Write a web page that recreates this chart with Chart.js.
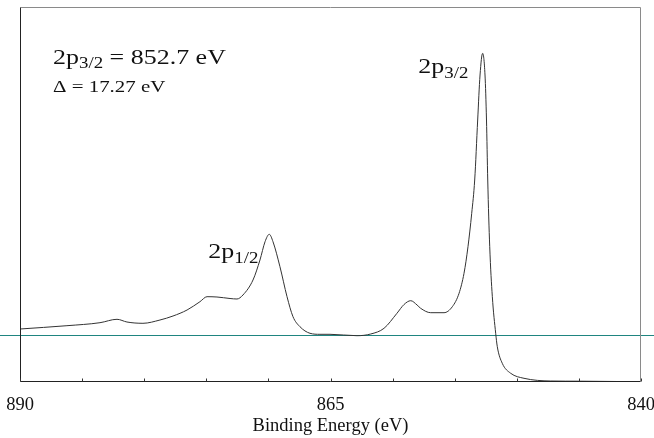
<!DOCTYPE html>
<html><head><meta charset="utf-8">
<script src="https://cdn.jsdelivr.net/npm/chart.js@4/dist/chart.umd.min.js"></script>
<style>html,body{margin:0;padding:0;background:#fff}#wrap{width:654px;height:438px}</style>
</head><body><div id="wrap"><canvas id="c" width="654" height="438"></canvas></div>
<script>
// Binding energy (eV) and intensity (arbitrary units)
const bindingEnergy = [890.00,886.22,883.56,882.19,881.39,880.10,878.73,877.68,876.55,875.51,
  874.94,874.14,873.09,872.53,872.05,871.24,870.68,870.27,869.93,869.63,
  869.07,868.50,868.02,867.46,866.65,865.85,865.04,862.87,861.76,860.69,
  859.65,859.08,858.54,858.03,857.74,856.93,855.86,855.19,854.65,854.25,853.93,853.63,
  853.39,853.15,852.96,852.75,852.56,852.44,852.34,852.18,851.97,851.70,
  851.57,851.17,850.49,849.42,847.27,844.91,840.16];
const intensity = [53,56.3,59.3,62.7,60,58.7,62,66,72,80.3,
  85.3,85,83.5,83,87,102,122,140.3,147.7,140.3,
  115.3,85.3,65.3,55.3,48.7,47.7,47.7,46.3,48,53.7,
  68.7,77.5,81.3,77,73.7,69.3,69.3,75.3,88.7,108.7,135.3,168.7,
  202,262,307,328.7,307,262,202,135.3,85.3,48.7,
  35.3,18.7,8.7,3.7,1,0.8,0.3];
const tickLabels = ['890','865','840'];
const baselineLevel = [47];
const peakLabels = [
  {main:'2p', sub:'3/2', rest:'', energy:857.93, level:308.7},
  {main:'2p', sub:'1/2', rest:'', energy:874.84, level:123.7}
];

const SERIF = '"Liberation Serif", "Times New Roman", serif';

function drawRich(ctx, x, y, parts, mainSize, subSize, sx) {
  ctx.save();
  ctx.translate(x, y);
  ctx.scale(sx, 1);
  ctx.textBaseline = 'alphabetic';
  ctx.textAlign = 'left';
  ctx.fillStyle = '#111';
  let cx = 0;
  ctx.font = mainSize + 'px ' + SERIF;
  ctx.fillText(parts.main, cx, 0); cx += ctx.measureText(parts.main).width;
  ctx.font = subSize + 'px ' + SERIF;
  ctx.fillText(parts.sub, cx, mainSize * 0.2); cx += ctx.measureText(parts.sub).width;
  if (parts.rest) {
    ctx.font = mainSize + 'px ' + SERIF;
    ctx.fillText(parts.rest, cx, 0);
  }
  ctx.restore();
}

const decor = {
  id: 'decor',
  beforeDatasetsDraw(chart) {
    const {ctx, scales: {y}} = chart;
    ctx.save();
    const by = Math.round(y.getPixelForValue(baselineLevel[0])) + 0.5;
    ctx.strokeStyle = '#1f8580';
    ctx.lineWidth = 1;
    ctx.beginPath(); ctx.moveTo(0, by); ctx.lineTo(chart.width, by); ctx.stroke();
    ctx.restore();
  },
  afterDatasetsDraw(chart) {
    const {ctx, chartArea: a, scales: {x, y}} = chart;
    ctx.save();
    ctx.lineWidth = 1;
    const L = Math.round(a.left) + 0.5, R = Math.round(a.right) - 0.5;
    const T = Math.round(a.top) + 0.5, B = Math.round(a.bottom) - 0.5;
    ctx.strokeStyle = '#8a8a8a';
    ctx.beginPath(); ctx.moveTo(L, T); ctx.lineTo(R, T); ctx.lineTo(R, B); ctx.stroke();
    ctx.strokeStyle = '#222';
    ctx.beginPath(); ctx.moveTo(L, T); ctx.lineTo(L, B); ctx.lineTo(R, B); ctx.stroke();
    ctx.strokeStyle = '#333';
    x.ticks.forEach(t => {
      const px = Math.round(x.getPixelForValue(t.value)) + 0.5;
      ctx.beginPath(); ctx.moveTo(px, B); ctx.lineTo(px, B - 3); ctx.stroke();
    });
    ctx.restore();
    drawRich(ctx, a.left + 33, a.top + 57, {main:'2p', sub:'3/2', rest:' = 852.7 eV'}, 22, 16, 1.18);
    ctx.save();
    ctx.translate(a.left + 33, a.top + 85);
    ctx.scale(1.23, 1);
    ctx.font = '17px ' + SERIF; ctx.fillStyle = '#111';
    ctx.fillText('\u0394 = 17.27 eV', 0, 0);
    ctx.restore();
    peakLabels.forEach(p => {
      drawRich(ctx, x.getPixelForValue(p.energy), y.getPixelForValue(p.level), p, 22, 16, 1.18);
    });
  }
};

new Chart(document.getElementById('c'), {
  type: 'line',
  data: {
    datasets: [{
      data: bindingEnergy.map((e, i) => ({x: e, y: intensity[i]})),
      borderColor: '#333',
      borderWidth: 1,
      pointRadius: 0,
      fill: false,
      cubicInterpolationMode: 'monotone'
    }]
  },
  options: {
    responsive: false,
    animation: false,
    layout: {padding: {left: 20, right: 13, top: 7, bottom: 0}},
    plugins: {legend: {display: false}, tooltip: {enabled: false}},
    scales: {
      x: {
        type: 'linear', min: 840, max: 890, reverse: true,
        grid: {display: false, drawTicks: false},
        border: {display: false},
        afterFit: s => { s.height = 56; s.paddingLeft = 0; s.paddingRight = 0; },
        ticks: {
          stepSize: 5, autoSkip: false, maxRotation: 0, padding: 12,
          color: '#111', font: {family: SERIF, size: 18.5},
          callback: v => tickLabels.includes(String(v)) ? String(v) : ''
        },
        title: {display: true, text: 'Binding Energy (eV)', color: '#111',
          font: {family: SERIF, size: 18.5}, padding: {top: 0, bottom: 1}}
      },
      y: {min: 0, max: 375, display: false}
    }
  },
  plugins: [decor]
});
</script></body></html>
